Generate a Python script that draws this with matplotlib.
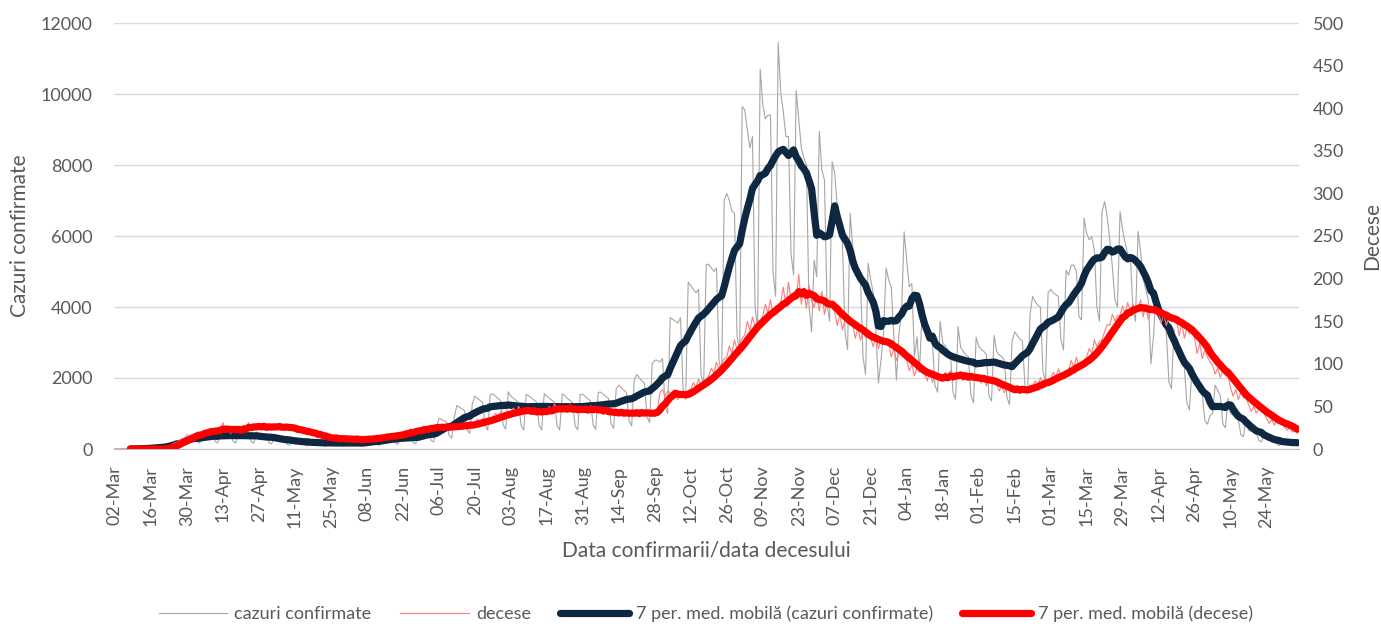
"""
Romania COVID-19: daily confirmed cases and deaths with 7-day moving averages.
"""
import matplotlib
matplotlib.use("Agg")
import matplotlib.pyplot as plt
import pandas as pd

# daily confirmed cases, one week (Mon..Sun) per line, starting 02-Mar-2020
cases_mar_may20 = [
    0, 0, 1, 2, 1, 3, 5,
    4, 8, 13, 18, 17, 15, 30,
    40, 48, 60, 70, 50, 55, 100,
    150, 180, 200, 240, 160, 170, 300,
    400, 370, 360, 330, 200, 170, 410,
    460, 440, 430, 400, 210, 170, 480,
    480, 450, 440, 420, 210, 170, 490,
    460, 445, 425, 405, 205, 165, 485,
    400, 385, 370, 350, 175, 145, 415,
    300, 290, 275, 265, 130, 110, 310,
    240, 230, 220, 210, 105, 85, 240,
    215, 205, 195, 185, 95, 75, 220,
    210, 205, 200, 185, 95, 80, 215,
]
cases_jun_aug20 = [
    215, 200, 195, 190, 95, 75, 220,
    285, 275, 265, 255, 125, 105, 300,
    375, 360, 345, 330, 165, 135, 390,
    410, 395, 380, 365, 180, 150, 430,
    550, 530, 505, 485, 240, 200, 570,
    860, 830, 795, 760, 380, 310, 895,
    1225, 1175, 1130, 1080, 540, 440, 1270,
    1490, 1430, 1370, 1310, 655, 535, 1540,
    1550, 1490, 1425, 1365, 680, 560, 1610,
    1490, 1430, 1370, 1310, 655, 535, 1540,
    1500, 1440, 1380, 1320, 660, 540, 1560,
    1480, 1430, 1370, 1310, 655, 535, 1550,
    1500, 1420, 1370, 1300, 660, 540, 1540,
]
cases_sep_nov20 = [
    1540, 1475, 1415, 1355, 675, 555, 1595,
    1600, 1540, 1480, 1420, 710, 580, 1700,
    1800, 1730, 1655, 1585, 790, 650, 1930,
    2100, 2000, 1920, 1850, 900, 750, 2400,
    2500, 2500, 2450, 2550, 1200, 1000, 3700,
    3650, 3600, 3550, 3700, 1700, 1400, 4700,
    4600, 4500, 4400, 4500, 2100, 1800, 5200,
    5200, 5100, 5000, 5100, 2500, 2100, 7000,
    7200, 7000, 6700, 6650, 3200, 2700, 9640,
    9550, 9000, 8480, 8800, 4000, 3400, 10700,
    9700, 9300, 9400, 9410, 5000, 4300, 11450,
    10030, 9500, 8800, 8800, 5500, 4900, 10090,
    9270, 8480, 8200, 8000, 4000, 3300, 5320,
]
cases_dec20_feb21 = [
    4850, 8940, 7860, 7580, 4100, 3600, 8090,
    7770, 6800, 6000, 5800, 3300, 2800, 6640,
    5700, 5400, 5040, 4800, 2600, 2100, 5230,
    4760, 4390, 3300, 1860, 2510, 3270, 5100,
    4760, 4560, 3160, 1940, 3260, 3800, 6120,
    5320, 4570, 4660, 2600, 3160, 2200, 3890,
    3500, 3300, 3200, 3000, 1800, 1600, 3600,
    3000, 2900, 2800, 2700, 1600, 1400, 3450,
    2850, 2750, 2650, 2600, 1500, 1300, 3150,
    2900, 2800, 2750, 2650, 1500, 1350, 3200,
    2750, 2650, 2600, 2500, 1450, 1250, 3040,
    3300, 3200, 3100, 3050, 1800, 1550, 3800,
    4300, 4150, 4050, 4000, 2200, 1900, 4400,
]
cases_mar_jun21 = [
    4500, 4400, 4350, 4300, 3070, 2790, 5040,
    4900, 5180, 5180, 5000, 3730, 3640, 6500,
    6080, 5890, 5980, 5600, 4000, 3600, 6690,
    6970, 6540, 5890, 5140, 4200, 4000, 6690,
    6170, 5790, 5500, 5420, 4000, 3600, 6130,
    5560, 4800, 4500, 4200, 2400, 3160, 4390,
    4000, 3700, 3500, 3300, 1900, 1700, 3390,
    2800, 2600, 2400, 2300, 1300, 1100, 2300,
    1900, 1750, 1650, 1500, 800, 700, 940,
    1000, 1800, 1650, 1500, 700, 600, 1430,
    1000, 950, 900, 850, 400, 350, 870,
    520, 500, 480, 450, 240, 200, 410,
    270, 260, 250, 240, 130, 100, 220,
    220, 210, 200, 190, 110, 90,
]

# daily deaths, same calendar
deaths_mar_may20 = [
    0, 0, 0, 0, 0, 0, 0,
    0, 0, 0, 0, 0, 0, 0,
    0, 0, 0, 0, 0, 0, 2,
    3, 5, 7, 8, 10, 12, 13,
    12, 15, 17, 18, 20, 19, 17,
    22, 20, 24, 21, 23, 22, 22,
    31, 20, 24, 18, 23, 22, 23,
    24, 28, 26, 31, 22, 27, 24,
    27, 25, 30, 23, 26, 25, 26,
    26, 29, 24, 23, 27, 22, 24,
    23, 19, 22, 18, 21, 17, 20,
    17, 15, 13, 16, 12, 14, 11,
    13, 11, 14, 10, 12, 13, 11,
]
deaths_jun_aug20 = [
    10, 12, 11, 13, 9, 11, 11,
    12, 14, 11, 15, 13, 12, 14,
    15, 18, 14, 17, 16, 15, 17,
    19, 22, 20, 24, 18, 22, 22,
    23, 27, 24, 26, 25, 22, 28,
    25, 28, 24, 27, 26, 23, 29,
    27, 30, 25, 31, 26, 28, 29,
    30, 35, 31, 36, 32, 34, 33,
    37, 42, 38, 44, 39, 41, 39,
    44, 48, 42, 50, 43, 46, 42,
    46, 41, 47, 40, 45, 43, 46,
    45, 50, 44, 53, 46, 48, 43,
    49, 44, 52, 45, 48, 42, 49,
]
deaths_sep_nov20 = [
    44, 49, 43, 51, 45, 47, 43,
    45, 40, 46, 41, 44, 42, 43,
    40, 45, 39, 44, 41, 43, 42,
    44, 39, 46, 40, 43, 41, 41,
    44, 46, 66, 70, 62, 68, 66,
    60, 66, 58, 67, 63, 65, 69,
    70, 78, 72, 82, 75, 80, 82,
    86, 95, 89, 102, 94, 100, 106,
    108, 121, 112, 128, 117, 124, 130,
    134, 150, 139, 155, 143, 151, 150,
    156, 170, 160, 175, 158, 168, 168,
    172, 190, 168, 196, 175, 184, 175,
    205, 170, 188, 165, 192, 174, 166,
]
deaths_dec20_feb21 = [
    180, 162, 185, 158, 172, 166, 167,
    160, 145, 158, 140, 152, 148, 147,
    146, 130, 142, 128, 137, 131, 131,
    130, 120, 134, 118, 128, 124, 128,
    124, 108, 118, 104, 112, 110, 108,
    104, 92, 99, 86, 95, 90, 92,
    88, 80, 91, 78, 86, 82, 83,
    82, 90, 84, 92, 80, 88, 86,
    88, 80, 87, 81, 86, 82, 84,
    84, 77, 85, 74, 82, 78, 80,
    76, 68, 74, 66, 73, 69, 71,
    66, 74, 65, 72, 70, 68, 75,
    74, 80, 72, 84, 76, 81, 79,
]
deaths_mar_jun21 = [
    82, 90, 84, 94, 86, 89, 91,
    92, 104, 95, 108, 97, 101, 103,
    108, 118, 112, 128, 120, 126, 128,
    138, 146, 145, 158, 150, 156, 157,
    168, 158, 172, 160, 170, 162, 165,
    175, 155, 170, 152, 168, 160, 161,
    160, 148, 158, 145, 155, 150, 155,
    152, 133, 148, 130, 142, 135, 140,
    130, 112, 124, 106, 116, 108, 102,
    98, 88, 95, 84, 92, 86, 87,
    72, 62, 70, 58, 66, 60, 60,
    52, 44, 50, 42, 48, 44, 42,
    36, 30, 35, 28, 33, 31, 31,
    26, 22, 25, 20, 21, 18,
]

start_date = "2020-03-02"
label_every = 14

cases = pd.Series(cases_mar_may20 + cases_jun_aug20 + cases_sep_nov20
                  + cases_dec20_feb21 + cases_mar_jun21)
deaths = pd.Series(deaths_mar_may20 + deaths_jun_aug20 + deaths_sep_nov20
                   + deaths_dec20_feb21 + deaths_mar_jun21)
dates = pd.date_range(start_date, periods=len(cases), freq="D")
x = range(len(cases))

plt.rcParams["font.family"] = ["Lato", "DejaVu Sans"]
text_color = "#595959"

fig = plt.figure(figsize=(13.81, 6.26), dpi=100)
W, H = 1381, 626
ax = fig.add_axes([113.7 / W, 1 - 449 / H, 1185 / W, 426 / H])
ax2 = ax.twinx()

thick = dict(linewidth=5.2, solid_capstyle="round", solid_joinstyle="round")
ax.plot(x, cases, color="#A6A6A6", linewidth=0.8, label="cazuri confirmate")
ax.plot(x, cases.rolling(7).mean(), color="#0E2841",
        label="7 per. med. mobilă (cazuri confirmate)", **thick)
ax2.plot(x, deaths, color="#FF7C7C", linewidth=0.8, label="decese")
ax2.plot(x, deaths.rolling(7).mean(), color="#FF0000",
         label="7 per. med. mobilă (decese)", **thick)

ax.set_xlim(-0.5, len(cases) - 0.5)
ax.set_ylim(0, 12000)
ax2.set_ylim(0, 500)
ax.set_yticks(range(0, 12001, 2000))
ax2.set_yticks(range(0, 501, 50))
ticks = list(range(0, len(cases), label_every))
ax.set_xticks(ticks)
ax.set_xticklabels([dates[i].strftime("%d-%b") for i in ticks], rotation=90)

ax.yaxis.grid(True, color="#D9D9D9", linewidth=1)
ax.set_axisbelow(True)
for a in (ax, ax2):
    for side in ("top", "left", "right", "bottom"):
        a.spines[side].set_visible(False)
ax.spines["bottom"].set_visible(True)
ax.spines["bottom"].set_color("#BFBFBF")

ax.tick_params(axis="y", length=0, pad=15, labelsize=13, labelcolor=text_color)
ax2.tick_params(axis="y", length=0, pad=10, labelsize=13, labelcolor=text_color)
ax.tick_params(axis="x", length=0, pad=12, labelsize=13, labelcolor=text_color)

ax.set_ylabel("Cazuri confirmate", fontsize=15, color=text_color, va="center")
ax.yaxis.set_label_coords(-0.079, 0.5)
ax2.set_ylabel("Decese", fontsize=15, color=text_color, rotation=90, va="center")
ax2.yaxis.set_label_coords(1.062, 0.5)
ax.set_xlabel("Data confirmarii/data decesului", fontsize=15, color=text_color,
              va="center")
ax.xaxis.set_label_coords(0.5, -0.239)

h1, l1 = ax.get_legend_handles_labels()
h2, l2 = ax2.get_legend_handles_labels()
handles = [h1[0], h2[0], h1[1], h2[1]]
labels = [l1[0], l2[0], l1[1], l2[1]]
fig.legend(handles, labels, loc="center", bbox_to_anchor=(0.511, 1 - 614 / H),
           ncol=4, frameon=False, fontsize=13, labelcolor=text_color,
           handlelength=3.8, columnspacing=1.6, handletextpad=0.4)

fig.savefig("out.png", dpi=100)
